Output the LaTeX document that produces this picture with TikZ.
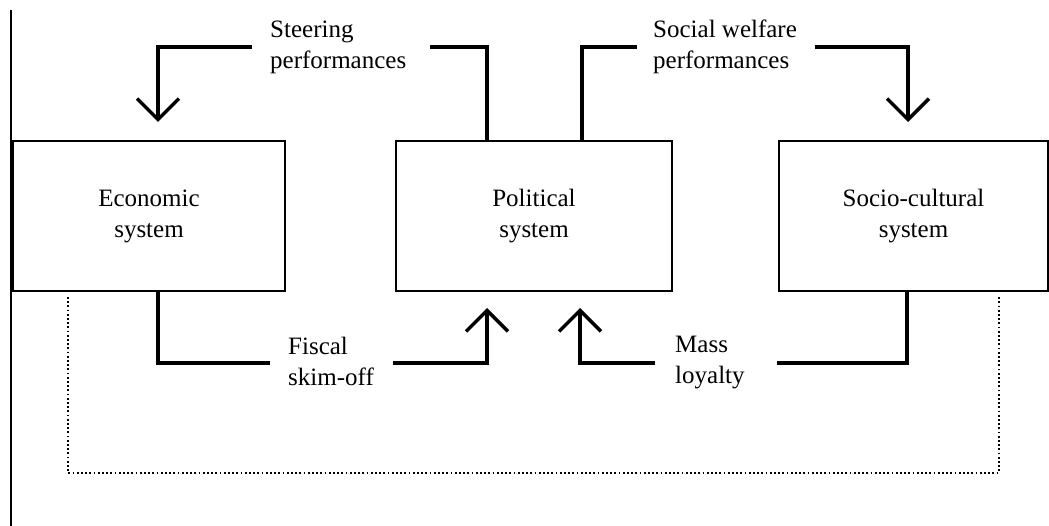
\documentclass[tikz,border=0pt]{standalone}
\usepackage{fontspec}
\setmainfont{Liberation Serif}
\usetikzlibrary{arrows.meta}
\begin{document}
\begin{tikzpicture}[x=1pt,y=-1pt,
  txt/.style={font=\fontsize{25}{31}\selectfont},
  sysbox/.style={txt, draw, line width=1.6pt, minimum height=150pt, align=center, inner sep=0pt},
  lbl/.style={txt, align=left, anchor=west, inner sep=0pt},
  flow/.style={line width=3.5pt},
  arr/.style={flow, -{Straight Barb[length=21pt,width=42pt,line width=3.5pt]}},
  dots/.style={line width=1.8pt, dash pattern=on 1.8pt off 2.4pt},
  edge/.style={line width=1.2pt}]
\useasboundingbox (0,0) rectangle (1049,526);
\fill[white] (0,0) rectangle (1049,526);

% systems
\node[sysbox, minimum width=272pt] (eco) at (149,216) {Economic\\system};
\node[sysbox, minimum width=276pt] (pol) at (534,216) {Political\\system};
\node[sysbox, minimum width=269pt] (soc) at (913.5,216) {Socio-cultural\\system};

% labels
\node[lbl] (steer) at (270,47) {Steering\\performances};
\node[lbl] (welf) at (653,47) {Social welfare\\performances};
\node[lbl] (fisc) at (288,361) {Fiscal\\skim-off};
\node[lbl] (mass) at (675,363) {Mass\\loyalty};

% coordinates
\coordinate (s1) at (252,47);
\coordinate (s2) at (158,122);
\coordinate (p1) at (430,47);
\coordinate (p2) at (487,141);
\coordinate (p3) at (582,141);
\coordinate (p4) at (637,47);
\coordinate (w1) at (815,47);
\coordinate (w2) at (908,122);
\coordinate (e1) at (158,291);
\coordinate (e2) at (270,363);
\coordinate (f1) at (393,363);
\coordinate (f2) at (487,308);
\coordinate (m1) at (655,363);
\coordinate (m2) at (580,308);
\coordinate (c1) at (907,291);
\coordinate (c2) at (777,363);
\coordinate (d1) at (68,297);
\coordinate (d2) at (999,473);
\coordinate (d3) at (999,295);
\coordinate (l1) at (11,10);
\coordinate (l2) at (11,526);

% connectors
\draw[arr] (s1) -| (s2);
\draw[flow] (p1) -| (p2);
\draw[flow] (p3) |- (p4);
\draw[arr] (w1) -| (w2);
\draw[flow] (e1) |- (e2);
\draw[arr] (f1) -| (f2);
\draw[arr] (m1) -| (m2);
\draw[flow] (c1) |- (c2);
\draw[dots] (d1) |- (d2) -- (d3);
\draw[edge] (l1) -- (l2);
\end{tikzpicture}
\end{document}
